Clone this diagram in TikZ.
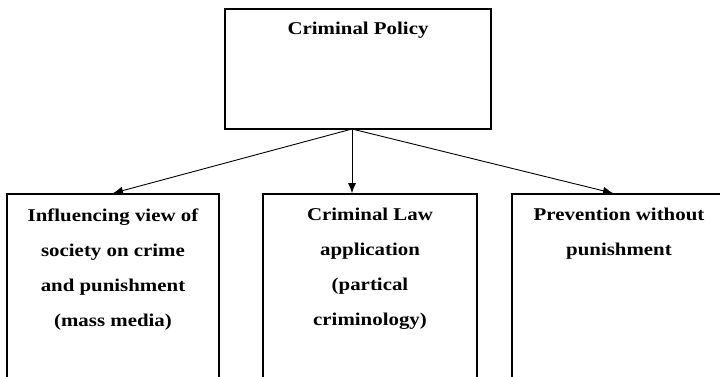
\documentclass[tikz,border=0pt]{standalone}
\usepackage{fontspec}
\setmainfont[FakeStretch=1.16]{Liberation Serif}
\usetikzlibrary{positioning,arrows.meta}
\tikzset{
  frame/.style={draw, line width=1.6pt, inner sep=0pt},
  boxtext/.style={font=\fontsize{18}{35}\selectfont\bfseries, align=center, inner sep=0pt},
  link/.style={-{Latex[length=10pt,width=8pt]}, line width=0.9pt}
}
\begin{document}
\begin{tikzpicture}[x=1pt,y=1pt]
  \clip (0,0) rectangle (720,-377);
  % top box
  \node[frame, minimum width=266pt, minimum height=120pt] (policy) at (358,-69) {};
  \node[boxtext, below=14pt of policy.north] (policytxt) {Criminal Policy};

  % bottom boxes, running off the lower edge
  \node[frame, minimum width=212pt, minimum height=206pt] (influence) at (113,-297) {};
  \node[frame, minimum width=214pt, minimum height=206pt] (lawapp) at (370,-297) {};
  \node[frame, minimum width=214pt, minimum height=206pt] (prevention) at (619,-297) {};

  \node[boxtext, below=15pt of influence.north] (influencetxt)
    {Influencing view of\\ society on crime\\ and punishment\\ (mass media)};
  \node[boxtext, below=15pt of lawapp.north] (lawapptxt)
    {Criminal Law\\ application\\ (partical\\ criminology)};
  \node[boxtext, below=15pt of prevention.north] (preventiontxt)
    {Prevention without\\ punishment};

  % arrows
  \coordinate (hub) at (352,-129);
  \draw[link] (hub) -- (influence.north);
  \draw[link] (hub) -- (hub |- lawapp.north);
  \draw[link] (hub) -- ([xshift=-6pt]prevention.north);
\end{tikzpicture}
\end{document}
